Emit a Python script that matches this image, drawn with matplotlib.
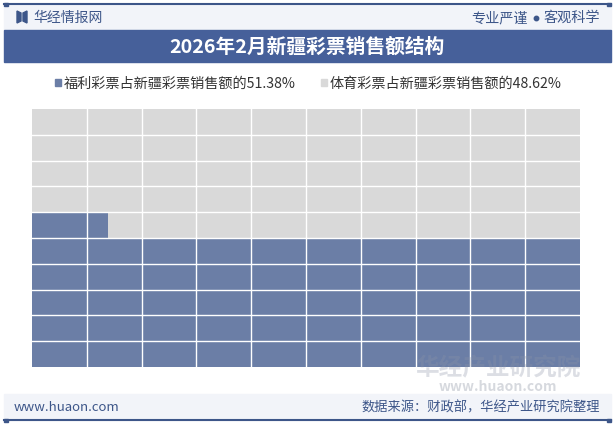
import matplotlib
matplotlib.use("Agg")
import matplotlib.pyplot as plt
from matplotlib.patches import Rectangle, Polygon

plt.rcParams['font.family'] = ['Noto Sans CJK SC', 'DejaVu Sans']

title = "2026年2月新疆彩票销售额结构"
categories = ["福利彩票占新疆彩票销售额的", "体育彩票占新疆彩票销售额的"]
values = [51.38, 48.62]
colors = ["#6b7ea6", "#d9d9d9"]

W, H = 615, 427
fig = plt.figure(figsize=(W / 100, H / 100), dpi=100)
fig.patch.set_facecolor("white")

def fx(x): return x / W
def fy(y): return 1 - y / H

bg = fig.add_axes([0, 0, 1, 1])
bg.set_xlim(0, W); bg.set_ylim(H, 0); bg.axis("off")

# header band
bg.add_patch(Rectangle((4, 5), 607, 26, color="#f2f4f9", zorder=0))
bg.plot([4, 611], [5, 5], color="#3d5689", lw=1.5)
bg.add_patch(Rectangle((4, 3.5), 4, 3, color="#3d5689"))
bg.add_patch(Rectangle((607, 3.5), 4, 3, color="#3d5689"))
# icon
bg.add_patch(Polygon([(17, 12), (21, 14), (21, 22), (17, 24)], color="#3d5689"))
bg.add_patch(Polygon([(23, 14), (27, 12), (27, 24), (23, 22)], color="#3d5689"))
bg.text(33, 18, "华经情报网", fontsize=10, color="#3d5689", va="center", ha="left")
bg.text(528, 18, "专业严谨", fontsize=10.2, color="#3d5689", va="center", ha="right")
bg.plot([536], [18.5], marker="o", ms=3.2, color="#3d5689")
bg.text(600, 18, "客观科学", fontsize=10.2, color="#3d5689", va="center", ha="right")

# title band
bg.add_patch(Rectangle((4, 31), 607, 32, color="#46609a"))
bg.text(307, 47.5, title, fontsize=14.2, color="white", fontweight="bold", va="center", ha="center")

# legend
lx = [55, 321]
for i, (cat, v) in enumerate(zip(categories, values)):
    bg.add_patch(Rectangle((lx[i], 80), 6, 7, color=colors[i]))
    bg.text(lx[i] + 9, 83.5, f"{cat}{v:.2f}%", fontsize=10.2, color="#333333", va="center", ha="left")

# footer
bg.add_patch(Rectangle((4, 395), 607, 26, color="#f2f4f9", zorder=0))
bg.plot([4, 611], [421, 421], color="#3d5689", lw=1.5)
bg.add_patch(Rectangle((4, 419.5), 4, 3, color="#3d5689"))
bg.add_patch(Rectangle((607, 419.5), 4, 3, color="#3d5689"))
bg.text(14, 408, "www.huaon.com", fontsize=9.5, color="#3d5689", va="center", ha="left")
bg.text(600, 408, "数据来源：财政部，华经产业研究院整理", fontsize=9.5, color="#3d5689", va="center", ha="right")

# waffle grid
ax = fig.add_axes([fx(32), fy(368), fx(580) - fx(32), (368 - 110) / H])
ax.set_xlim(0, 10); ax.set_ylim(0, 10); ax.axis("off")
for r in range(10):
    for c in range(10):
        k = r * 10 + c
        frac = min(max(values[0] - k, 0), 1)
        ax.add_patch(Rectangle((c, r), 1, 1, facecolor=colors[1], edgecolor="none"))
        if frac > 0:
            ax.add_patch(Rectangle((c, r), frac, 1, facecolor=colors[0], edgecolor="none"))
for i in range(1, 10):
    ax.axvline(i, color="white", lw=1.0)
    ax.axhline(i, color="white", lw=1.0)

# watermark (on top of everything)
fig.text(fx(498), fy(368), "华经产业研究院", fontsize=17, color="#8c94a8", alpha=0.3,
         va="center", ha="center", fontweight="bold", zorder=10)
fig.text(fx(498), fy(387), "www.huaon.com", fontsize=10, color="#9aa0ae", alpha=0.4,
         va="center", ha="center", fontweight="bold", zorder=10)

fig.savefig("out.png", dpi=100)
